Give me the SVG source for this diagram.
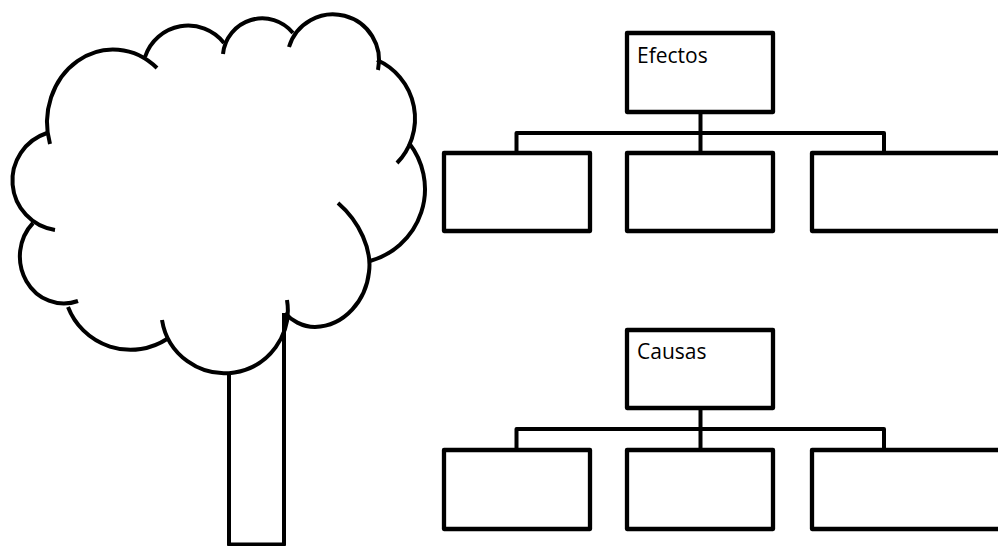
<svg xmlns="http://www.w3.org/2000/svg" width="998" height="546" viewBox="0 0 998 546">
<style>
.ln{fill:none;stroke:#000;stroke-width:4;stroke-linejoin:round}
.bx{fill:#fff;stroke:#000;stroke-width:4.3;stroke-linejoin:round}
.lb{font-family:"Open Sans","Liberation Sans",sans-serif;font-size:21px;fill:#000}
</style>
<rect width="998" height="546" fill="#fff"/>
<g id="tree">
<path class="ln" d="M50,144 A66,73 0 0 1 157,68"/>
<path class="ln" d="M145,57 A45.5,45.5 0 0 1 224,43"/>
<path class="ln" d="M223,54 A39.5,39.5 0 0 1 293,33"/>
<path class="ln" d="M289,47 A46,46 0 0 1 378,70"/>
<path class="ln" d="M377,60 A64,64 0 0 1 397,163"/>
<path class="ln" d="M409,143 A74.5,74.5 0 0 1 370,261"/>
<path class="ln" d="M338,203 C360,222 372,250 369,272 C366,300 345,326 315,327 C302,327 291,320 285,313"/>
<path class="ln" d="M287,300 A63,63 0 0 1 162,320"/>
<path class="ln" d="M167,339 A67,67 0 0 1 68,307"/>
<path class="ln" d="M33,223 A44,47 0 0 0 78,301"/>
<path class="ln" d="M47,133 A50,50 0 0 0 55,230"/>
<path class="ln" d="M229,372 V544.5 H284 V313"/>
</g>
<g id="connectors">
<path class="ln" d="M700.5,112 V153"/>
<path class="ln" d="M516.5,153 V133 H884 V153"/>
<path class="ln" d="M700.5,408 V450"/>
<path class="ln" d="M516.5,450 V429 H884 V450"/>
</g>
<g id="efectos">
<rect class="bx" x="627" y="33" width="146" height="79"/>
<text class="lb" x="637" y="63">Efectos</text>
</g>
<g id="efecto1"><rect class="bx" x="444" y="153" width="146" height="78"/></g>
<g id="efecto2"><rect class="bx" x="627" y="153" width="146" height="78"/></g>
<g id="efecto3"><rect class="bx" x="812" y="153" width="200" height="78"/></g>
<g id="causas">
<rect class="bx" x="627" y="330" width="146" height="78"/>
<text class="lb" x="637" y="359">Causas</text>
</g>
<g id="causa1"><rect class="bx" x="444" y="450" width="146" height="79"/></g>
<g id="causa2"><rect class="bx" x="627" y="450" width="146" height="79"/></g>
<g id="causa3"><rect class="bx" x="812" y="450" width="200" height="79"/></g>
</svg>
